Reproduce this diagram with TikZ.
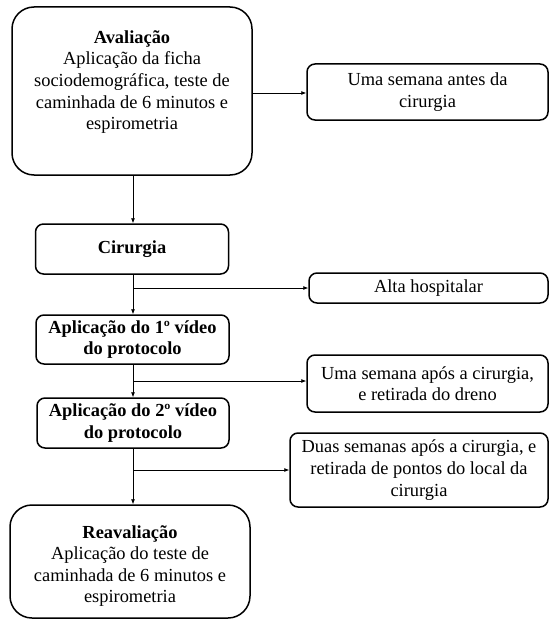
\documentclass[tikz,border=0pt]{standalone}
\usepackage{fontspec}
\setmainfont{Liberation Serif}
\usetikzlibrary{arrows.meta,calc}
\begin{document}
\begin{tikzpicture}[x=1pt,y=-1pt,
  box/.style={draw=black,line width=1.5pt,rounded corners=8pt,inner sep=0pt},
  bigbox/.style={box,rounded corners=22pt},
  txt/.style={align=center,inner sep=0pt,font=\fontsize{18.4pt}{21.6pt}\selectfont},
  conn/.style={line width=0.7pt},
  arr/.style={conn,-{Latex[length=5pt,width=4pt]}}]
\useasboundingbox (0,0) rectangle (558,623);
% boxes
\node[bigbox,minimum width=240pt,minimum height=168pt] (aval) at (132,91) {};
\node[txt] (avalt) at (132,82) {\textbf{Avaliação}\\Aplicação da ficha\\sociodemográfica, teste de\\caminhada de 6 minutos e\\espirometria};
\node[box,minimum width=241pt,minimum height=56pt,txt] (antes) at (427.5,92) {Uma semana antes da\\cirurgia};
\node[box,minimum width=193pt,minimum height=50pt,txt] (cir) at (132,249) {\textbf{Cirurgia}};
\node[box,minimum width=239pt,minimum height=30pt,txt] (alta) at (428.5,288) {Alta hospitalar};
\node[box,minimum width=193pt,minimum height=49pt,txt] (v1) at (132.5,339.5) {\textbf{Aplicação do 1º vídeo}\\\textbf{do protocolo}};
\node[box,minimum width=241pt,minimum height=57pt,txt] (apos) at (427.5,383.5) {Uma semana após a cirurgia,\\e retirada do dreno};
\node[box,minimum width=192pt,minimum height=50pt,txt] (v2) at (133,423) {\textbf{Aplicação do 2º vídeo}\\\textbf{do protocolo}};
\node[box,minimum width=258pt,minimum height=74pt,txt] (duas) at (419,470) {Duas semanas após a cirurgia, e\\retirada de pontos do local da\\cirurgia};
\node[bigbox,minimum width=240pt,minimum height=113pt] (reav) at (130,561.5) {};
\node[txt] (reavt) at (130,566) {\textbf{Reavaliação}\\Aplicação do teste de\\caminhada de 6 minutos e\\espirometria};
% branch points
\coordinate (b0) at (252,93);
\coordinate (b1) at (133,288);
\coordinate (b2) at (133,381);
\coordinate (b3) at (133,470);
% connectors
\draw[arr] (b0) -- (b0 -| antes.west);
\draw[arr] (aval.south -| b1) -- (cir.north -| b1);
\draw[arr] (cir.south -| b1) -- (v1.north -| b1);
\draw[arr] (b1) -- (b1 -| alta.west);
\draw[arr] (v1.south -| b2) -- (v2.north -| b2);
\draw[arr] (b2) -- (b2 -| apos.west);
\draw[arr] (v2.south -| b3) -- (reav.north -| b3);
\draw[arr] (b3) -- (b3 -| duas.west);
\end{tikzpicture}
\end{document}
